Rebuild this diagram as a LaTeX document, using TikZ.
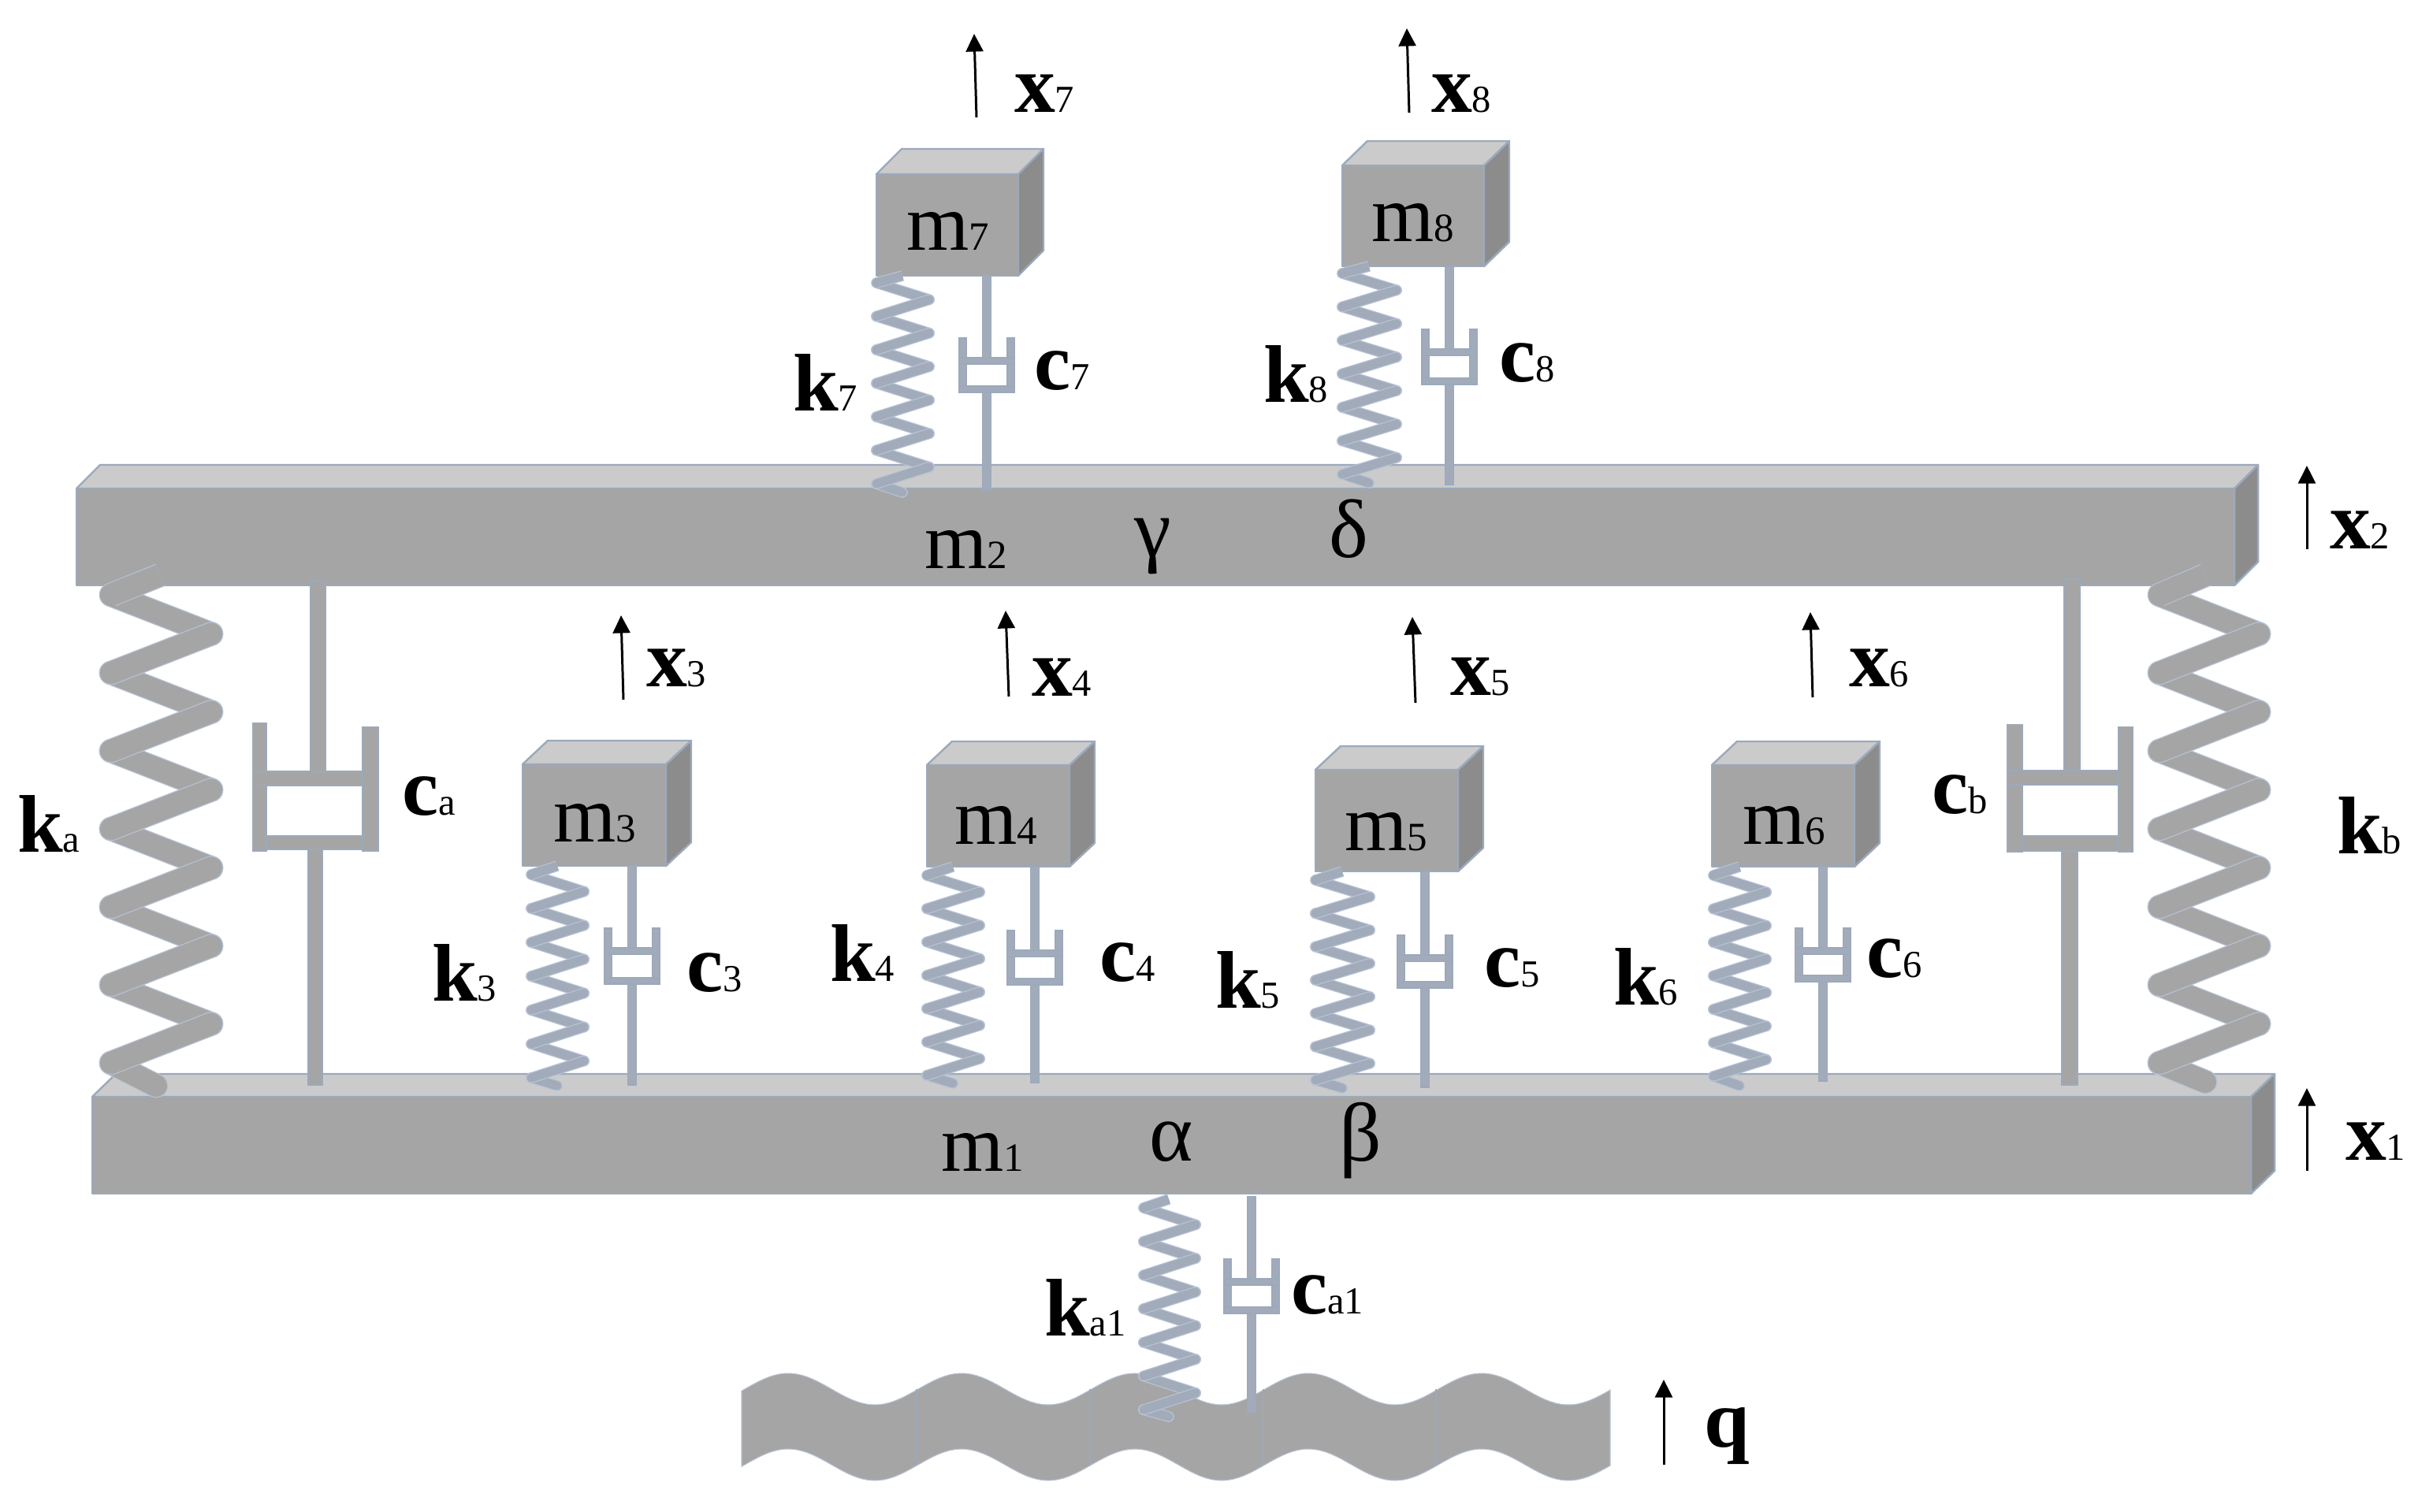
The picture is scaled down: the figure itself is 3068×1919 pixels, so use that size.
\documentclass[tikz,border=0pt]{standalone}
\usepackage{fontspec}
\setmainfont{Liberation Serif}
\usetikzlibrary{arrows.meta}
\definecolor{front}{HTML}{A5A5A5}
\definecolor{topf}{HTML}{CBCBCB}
\definecolor{sidef}{HTML}{8C8C8C}
\definecolor{edge}{HTML}{9CA9BC}
\definecolor{edgelight}{HTML}{B7C3D6}
\definecolor{coil}{HTML}{A2ABBA}
\tikzset{
  face/.style={line width=0.7pt,draw=edge,line join=round},
  part/.style={fill=#1,draw=edge,line width=0.4pt},
  part/.default=front,
  lab/.style={anchor=base west,inner sep=0pt,outer sep=0pt,text=black},
  motion/.style={draw=black,line width=0.85pt,-{Triangle[length=6.4pt,width=6.2pt]}},
  roadline/.style={draw=edge,line width=0.4pt}
}
% cuboid: front-left x, front-right x, front-top y, bottom y, depth x, depth y
\newcommand\cuboid[6]{%
  \fill[front,face] (#1,#3) rectangle (#2,#4);
  \fill[topf,face] (#1,#3) -- ({#1+#5},{#3-#6}) -- ({#2+#5},{#3-#6}) -- (#2,#3) -- cycle;
  \fill[sidef,face] (#2,#3) -- ({#2+#5},{#3-#6}) -- ({#2+#5},{#4-#6}) -- (#2,#4) -- cycle;
}
% one ribbon of a coil: from, to, cap
\newcommand\seg[5]{%
  \draw[draw=edgelight,line width=\swido,line cap=#5] ({#1},{#2}) -- ({#3},{#4});
  \draw[draw=\scol,line width=\swid,line cap=#5] ({#1},{#2}) -- ({#3},{#4});
}
% spring: xL xR xtop ytop a p xbot ybot
\newcommand\spring[8]{%
  \foreach \i in {0,...,5} {
    \seg{#1}{#4+#5+\i*#6}{#2}{#4+#5+(\i+0.5)*#6}{round}
  }
  \seg{#1}{#4+#5+6*#6}{#7}{#8}{round}
  \foreach \i in {0,...,5} {
    \seg{#2}{#4+#5+(\i+0.5)*#6}{#1}{#4+#5+(\i+1)*#6}{round}
  }
  \seg{#3}{#4}{#1}{#4+#5}{butt}
  \draw[draw=\scol,line width=\swid,line cap=round] ({#1},{#4+#5}) -- ({(#1+#3)/2},{#4+#5/2});
}
\newcommand\smallspring[7]{\def\scol{coil}\def\swid{3.2pt}\def\swido{3.9pt}\spring{#1}{#2}{#3}{#4}{#7}{#6}{#3}{#5}}
\newcommand\bigspring[8]{\def\scol{front}\def\swid{8pt}\def\swido{8.7pt}\spring{#1}{#2}{#3}{#4}{#5}{#6}{#7}{#8}}
% small damper: cx rodtop walltop wallbot rodbot
\newcommand\damper[5]{%
  \fill[part=coil] ({#1-5.5},#2) rectangle ({#1+5.5},{#3+26});
  \fill[part=coil] ({#1-5.5},#4) rectangle ({#1+5.5},#5);
  \fill[part=coil] ({#1-35},#3) rectangle ({#1-26},#4);
  \fill[part=coil] ({#1+26},#3) rectangle ({#1+35},#4);
  \fill[part=coil] ({#1-35},{#3+25}) rectangle ({#1+35},{#3+33});
  \fill[part=coil] ({#1-35},{#4-8}) rectangle ({#1+35},#4);
}
\newcommand\rr[4]{\fill[part] (#1,#2) rectangle (#3,#4);}
\newcommand\bl[5]{\node[lab] (#1) at (#2,#3) {\fontsize{29.5}{32}\selectfont\bfseries #4\fontsize{13.8}{16}\selectfont\mdseries #5};}
\newcommand\rl[5]{\node[lab] (#1) at (#2,#3) {\fontsize{29}{32}\selectfont #4\fontsize{14.5}{16}\selectfont #5};}
\newcommand\gl[4]{\node[lab] (#1) at (#2,#3) {\fontsize{30}{32}\selectfont #4};}
\begin{document}
\begin{tikzpicture}[x=0.01cm,y=-0.01cm]
\useasboundingbox (0,0) rectangle (3068,1919);
\fill[white] (0,0) rectangle (3068,1919);

% road
\filldraw[fill=front,draw=edgelight,line width=0.3pt] plot[domain=941:2043,samples=160] (\x,{1763-20*cos((\x-1000)/220*360)})
  -- plot[domain=2043:941,samples=160] (\x,{1859-20*cos((\x-1000)/220*360)}) -- cycle;
\foreach \rx in {1163,1383,1603,1822}
  \draw[roadline] (\rx,1763) -- (\rx,1859);

% beams
\cuboid{97}{2835}{620}{743}{30}{30}
\cuboid{117}{2856}{1392}{1515}{30}{29}

% blocks
\cuboid{1112}{1292}{221}{350}{32}{32}
\cuboid{1703}{1883}{210}{338}{32}{31}
\cuboid{663}{845}{970}{1099}{32}{30}
\cuboid{1176}{1357}{971}{1100}{32}{30}
\cuboid{1669}{1850}{977}{1106}{32}{30}
\cuboid{2172}{2353}{971}{1100}{32}{30}

% big springs
\bigspring{141}{268}{203}{730}{25}{99}{198}{1378}
\bigspring{2740}{2866}{2798}{730}{25}{99}{2798}{1373}

% small springs
\smallspring{1112}{1179}{1145}{350}{625}{42.5}{9}
\smallspring{1703}{1772}{1737}{338}{613}{42.5}{9}
\smallspring{674}{741}{707}{1099}{1378}{43}{11}
\smallspring{1176}{1243}{1209}{1100}{1375}{42.3}{11}
\smallspring{1669}{1738}{1703}{1106}{1381}{42.3}{11}
\smallspring{2174}{2241}{2207}{1100}{1378}{42.5}{11}
\smallspring{1451}{1517}{1483}{1522}{1798}{42.7}{11}

% small dampers
\damper{1252}{350}{429}{498}{622}
\damper{1839}{338}{418}{488}{615}
\damper{802}{1099}{1178}{1249}{1377}
\damper{1313}{1100}{1181}{1250}{1374}
\damper{1808}{1106}{1187}{1254}{1380}
\damper{2313}{1100}{1178}{1246}{1372}
\damper{1588}{1519}{1598}{1667}{1793}

% big dampers
\rr{394}{737}{413}{980}
\rr{391}{1078}{409}{1377}
\rr{321}{918}{338}{1080}
\rr{460}{923}{480}{1080}
\rr{321}{979}{460}{997}
\rr{338}{1061}{460}{1078}

\rr{2619}{735}{2639}{979}
\rr{2616}{1080}{2636}{1377}
\rr{2547}{920}{2566}{1081}
\rr{2688}{923}{2706}{1081}
\rr{2547}{978}{2688}{996}
\rr{2566}{1061}{2688}{1080}

% motion arrows
\coordinate (a7) at (1239,149); \coordinate (t7) at (1236,43);
\coordinate (a8) at (1788,143); \coordinate (t8) at (1785,36);
\coordinate (a3) at (791,888);  \coordinate (t3) at (788,781);
\coordinate (a4) at (1280,884); \coordinate (t4) at (1276,775);
\coordinate (a5) at (1796,892); \coordinate (t5) at (1792,783);
\coordinate (a6) at (2300,885); \coordinate (t6) at (2297,777);
\coordinate (a2) at (2927,697); \coordinate (t2) at (2927,591);
\coordinate (a1) at (2927,1486);\coordinate (t1) at (2927,1381);
\coordinate (aq) at (2111,1859);\coordinate (tq) at (2111,1751);
\foreach \n in {7,8,3,4,5,6,2,1,q} \draw[motion] (a\n) -- (t\n);

% labels
\bl{lx7}{1287}{143}{x}{7}
\bl{lx8}{1816}{143}{x}{8}
\bl{lx3}{820}{872}{x}{3}
\bl{lx4}{1309}{884}{x}{4}
\bl{lx5}{1840}{883}{x}{5}
\bl{lx6}{2346}{872}{x}{6}
\bl{lx2}{2956}{697}{x}{2}
\bl{lx1}{2976}{1472}{x}{1}
\bl{lq}{2162}{1836}{q}{}

\bl{lk7}{1006}{522}{k}{7}
\bl{lk8}{1603}{511}{k}{8}
\bl{lk3}{548}{1271}{k}{3}
\bl{lk4}{1053}{1246}{k}{4}
\bl{lk5}{1542}{1280}{k}{5}
\bl{lk6}{2047}{1276}{k}{6}
\bl{lka}{22}{1082}{k}{a}
\bl{lkb}{2965}{1084}{k}{b}
\bl{lka1}{1325}{1695}{k}{a1}

\bl{lc7}{1312}{495}{c}{7}
\bl{lc8}{1902}{485}{c}{8}
\bl{lc3}{871}{1258}{c}{3}
\bl{lc4}{1395}{1245}{c}{4}
\bl{lc5}{1883}{1252}{c}{5}
\bl{lc6}{2368}{1241}{c}{6}
\bl{lca}{510}{1035}{c}{a}
\bl{lcb}{2451}{1033}{c}{b}
\bl{lca1}{1638}{1667}{c}{a1}

\rl{lm7}{1150}{318}{m}{7}
\rl{lm8}{1740}{307}{m}{8}
\rl{lm3}{702}{1069}{m}{3}
\rl{lm4}{1211}{1072}{m}{4}
\rl{lm5}{1706}{1080}{m}{5}
\rl{lm6}{2211}{1072}{m}{6}
\rl{lm2}{1173}{722}{m}{2}
\rl{lm1}{1194}{1486}{m}{1}

\gl{lgamma}{1439}{707}{γ}
\gl{ldelta}{1686}{708}{δ}
\gl{lalpha}{1458}{1473}{α}
\gl{lbeta}{1699}{1473}{β}
\end{tikzpicture}
\end{document}
